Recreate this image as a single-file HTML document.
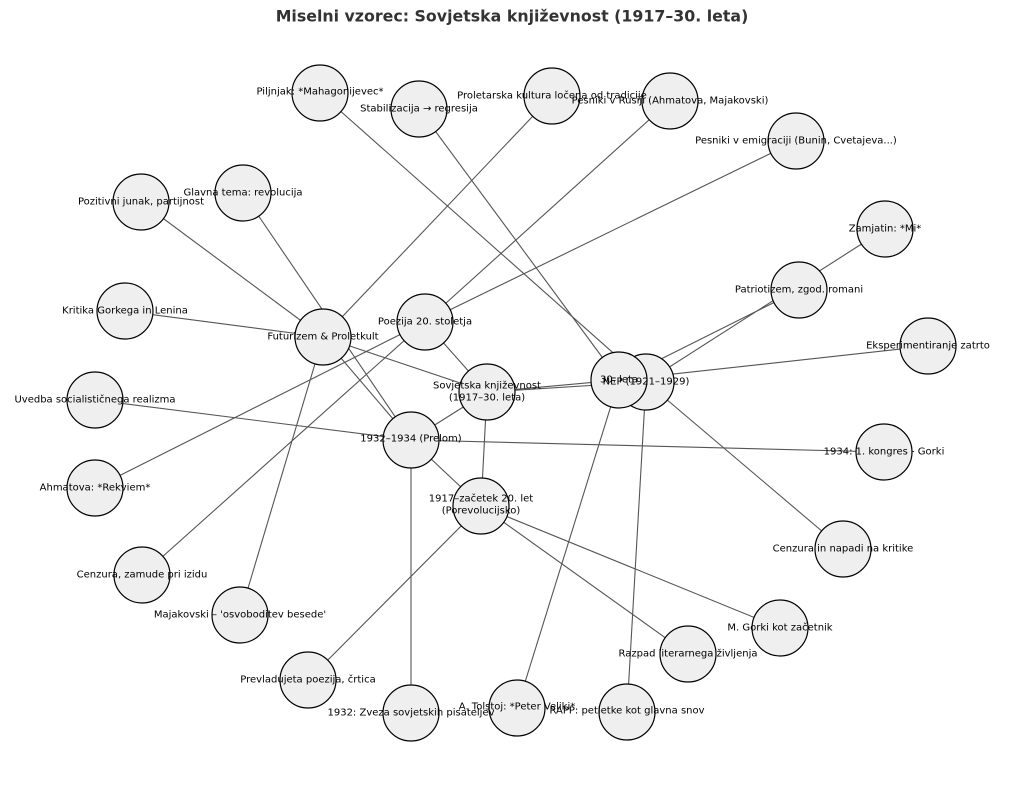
<!DOCTYPE html>
<html><head><meta charset="utf-8"><style>
html,body{margin:0;padding:0;background:#fff;}
svg{display:block;}
text{font-family:"DejaVu Sans","Liberation Sans",sans-serif;font-size:10px;fill:#000;text-anchor:middle;dominant-baseline:central;}
.t{font-size:15.8px;font-weight:bold;fill:#333;}
line{stroke:#555;stroke-width:1.1;}
circle{fill:#efefef;stroke:#000;stroke-width:1.2;}
</style></head><body>
<svg width="1024" height="787" viewBox="0 0 1024 787">
<text class="t" x="512" y="16">Miselni vzorec: Sovjetska književnost (1917–30. leta)</text>
<g>
<line x1="320" y1="93" x2="646" y2="382"/>
<line x1="419" y1="109" x2="619" y2="380"/>
<line x1="552" y1="96" x2="323" y2="337"/>
<line x1="670" y1="101" x2="425" y2="322"/>
<line x1="796" y1="141" x2="425" y2="322"/>
<line x1="243" y1="193" x2="411" y2="440"/>
<line x1="141" y1="202" x2="323" y2="337"/>
<line x1="885" y1="229" x2="646" y2="382"/>
<line x1="799" y1="290" x2="619" y2="380"/>
<line x1="125" y1="311" x2="323" y2="337"/>
<line x1="323" y1="337" x2="487" y2="392"/>
<line x1="323" y1="337" x2="411" y2="440"/>
<line x1="425" y1="322" x2="487" y2="392"/>
<line x1="928" y1="346" x2="619" y2="380"/>
<line x1="487" y1="392" x2="619" y2="380"/>
<line x1="487" y1="392" x2="646" y2="382"/>
<line x1="95" y1="400" x2="411" y2="440"/>
<line x1="411" y1="440" x2="884" y2="452"/>
<line x1="95" y1="488" x2="425" y2="322"/>
<line x1="142" y1="575" x2="425" y2="322"/>
<line x1="240" y1="615" x2="323" y2="337"/>
<line x1="487" y1="392" x2="411" y2="440"/>
<line x1="487" y1="392" x2="481" y2="506"/>
<line x1="411" y1="440" x2="481" y2="506"/>
<line x1="411" y1="440" x2="411" y2="713"/>
<line x1="308" y1="680" x2="481" y2="506"/>
<line x1="688" y1="654" x2="481" y2="506"/>
<line x1="780" y1="628" x2="481" y2="506"/>
<line x1="843" y1="549" x2="646" y2="382"/>
<line x1="517" y1="708" x2="619" y2="380"/>
<line x1="627" y1="712" x2="646" y2="382"/>
</g>
<g>
<circle cx="320" cy="93" r="28"/>
<circle cx="419" cy="109" r="28"/>
<circle cx="552" cy="96" r="28"/>
<circle cx="670" cy="101" r="28"/>
<circle cx="796" cy="141" r="28"/>
<circle cx="243" cy="193" r="28"/>
<circle cx="141" cy="202" r="28"/>
<circle cx="885" cy="229" r="28"/>
<circle cx="799" cy="290" r="28"/>
<circle cx="125" cy="311" r="28"/>
<circle cx="323" cy="337" r="28"/>
<circle cx="425" cy="322" r="28"/>
<circle cx="928" cy="346" r="28"/>
<circle cx="487" cy="392" r="28"/>
<circle cx="646" cy="382" r="28"/>
<circle cx="619" cy="380" r="28"/>
<circle cx="95" cy="400" r="28"/>
<circle cx="411" cy="440" r="28"/>
<circle cx="884" cy="452" r="28"/>
<circle cx="95" cy="488" r="28"/>
<circle cx="481" cy="506" r="28"/>
<circle cx="843" cy="549" r="28"/>
<circle cx="142" cy="575" r="28"/>
<circle cx="240" cy="615" r="28"/>
<circle cx="780" cy="628" r="28"/>
<circle cx="688" cy="654" r="28"/>
<circle cx="308" cy="680" r="28"/>
<circle cx="517" cy="708" r="28"/>
<circle cx="627" cy="712" r="28"/>
<circle cx="411" cy="713" r="28"/>
</g>
<g>
<text x="320" y="92">Piljnjak: *Mahagonijevec*</text>
<text x="419" y="109">Stabilizacija → regresija</text>
<text x="552" y="96">Proletarska kultura ločena od tradicije</text>
<text x="670" y="101">Pesniki v Rusiji (Ahmatova, Majakovski)</text>
<text x="796" y="141">Pesniki v emigraciji (Bunin, Cvetajeva...)</text>
<text x="243" y="193">Glavna tema: revolucija</text>
<text x="141" y="202">Pozitivni junak, partijnost</text>
<text x="885" y="229">Zamjatin: *Mi*</text>
<text x="799" y="290">Patriotizem, zgod. romani</text>
<text x="125" y="311">Kritika Gorkega in Lenina</text>
<text x="323" y="337">Futurizem &amp; Proletkult</text>
<text x="425" y="322">Poezija 20. stoletja</text>
<text x="928" y="346">Eksperimentiranje zatrto</text>
<text x="487" y="386">Sovjetska književnost</text><text x="487" y="398">(1917–30. leta)</text>
<text x="646" y="382">NEP (1921–1929)</text>
<text x="619" y="380">30. leta</text>
<text x="95" y="400">Uvedba socialističnega realizma</text>
<text x="411" y="439">1932–1934 (Prelom)</text>
<text x="884" y="452">1934: 1. kongres - Gorki</text>
<text x="95" y="488">Ahmatova: *Rekviem*</text>
<text x="481" y="499">1917–začetek 20. let</text><text x="481" y="511">(Porevolucijsko)</text>
<text x="843" y="549">Cenzura in napadi na kritike</text>
<text x="142" y="575">Cenzura, zamude pri izidu</text>
<text x="240" y="615">Majakovski – 'osvoboditev besede'</text>
<text x="780" y="628">M. Gorki kot začetnik</text>
<text x="688" y="654">Razpad literarnega življenja</text>
<text x="308" y="680">Prevladujeta poezija, črtica</text>
<text x="517" y="707">A. Tolstoj: *Peter Veliki*</text>
<text x="627" y="711">RAPP: petletke kot glavna snov</text>
<text x="411" y="713">1932: Zveza sovjetskih pisateljev</text>
</g>
</svg>
</body></html>
